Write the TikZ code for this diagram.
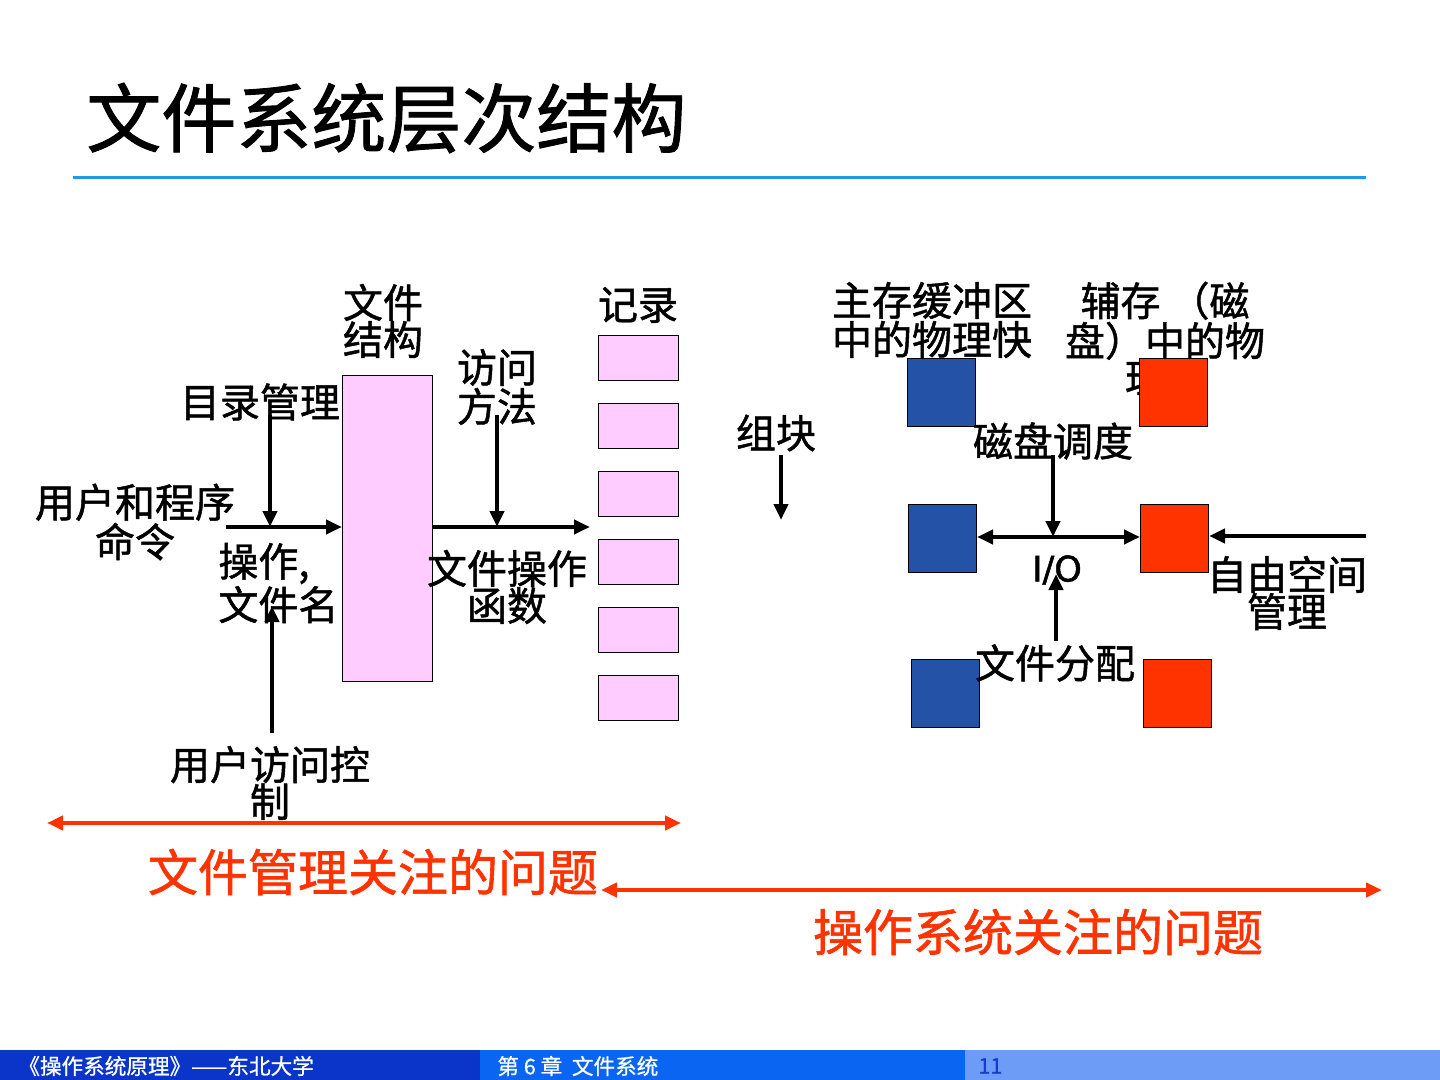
\documentclass[tikz,border=0pt]{standalone}
\usepackage{fontspec}
\setmainfont{Noto Sans CJK SC}
\newfontfamily\cjk[FakeBold=1.2]{Noto Sans CJK SC}
\newfontfamily\cjkfoot[FakeBold=0.8]{Noto Sans CJK SC}
\newfontfamily\iofont[FakeBold=1.5]{DejaVu Sans}
\usetikzlibrary{arrows.meta}
\definecolor{pinkfill}{HTML}{FFCCFF}
\definecolor{sqblue}{HTML}{2352A6}
\definecolor{sqred}{HTML}{FF3300}
\definecolor{rulecol}{HTML}{1E9BE6}
\definecolor{barA}{HTML}{0A35C8}
\definecolor{barB}{HTML}{0A66F2}
\definecolor{barC}{HTML}{6C9CF5}
\definecolor{pagenum}{HTML}{1A3ACC}
\begin{document}
\begin{tikzpicture}[x=0.5pt,y=-0.5pt,
  lbl/.style={inner sep=0pt,align=center,font=\cjk\fontsize{20}{18.5}\selectfont},
  redlbl/.style={inner sep=0pt,font=\cjk\fontsize{25}{26}\selectfont,text=sqred},
  arr/.style={line width=2pt,-{Triangle[length=8pt,width=7pt]}},
  darr/.style={line width=2pt,{Triangle[length=8pt,width=7pt]}-{Triangle[length=8pt,width=7pt]}},
  rarr/.style={line width=2pt,color=sqred,{Triangle[length=8pt,width=7pt]}-{Triangle[length=8pt,width=7pt]}},
  rec/.style={draw=black,line width=0.6pt,fill=pinkfill},
  bsq/.style={draw=black,line width=0.5pt,fill=sqblue},
  rsq/.style={draw=black,line width=0.5pt,fill=sqred},
  foot/.style={inner sep=0pt,anchor=west,font=\cjkfoot\fontsize{10.8}{11}\selectfont}]
\useasboundingbox (0,0) rectangle (1440,1080);
\fill[white] (0,0) rectangle (1440,1080);
% title
\node[inner sep=0pt,anchor=west,font=\cjk\fontsize{37.5}{38}\selectfont] (title) at (86,118) {文件系统层次结构};
\draw[rulecol,line width=1.5pt] (73,178) -- (1366,178);
% left part
\node[rec,minimum width=45pt,minimum height=153pt,inner sep=0pt,anchor=north west] (fs) at (342,375) {};
\foreach \i/\y in {1/335,2/403,3/471,4/539,5/607,6/675}
  \node[rec,minimum width=40pt,minimum height=22.5pt,inner sep=0pt,anchor=north west] (r\i) at (598,\y) {};
\node[lbl] (jl) at (638,305) {记录};
\node[lbl] (wjjg) at (383,321) {文件\\结构};
\node[lbl] (fwff) at (497,387) {访问\\方法};
\node[lbl] (mlgl) at (260,402) {目录管理};
\node[lbl] (yhcx) at (135,522) {用户和程序\\命令};
\node[lbl,align=left,anchor=west] (czwj) at (218,583) {操作,\\文件名};
\node[lbl] (wjcz) at (507,587) {文件操作\\函数};
\node[lbl] (yhfw) at (270,783) {用户访问控\\制};
\node[lbl] (zk) at (776,433) {组块};
\coordinate (inL) at (226,527);
\coordinate (mgTop) at (270,415);
\coordinate (mgBot) at (270,527);
\coordinate (acBot) at (272,606);
\coordinate (acTop) at (272,733);
\coordinate (outR) at (590,527);
\coordinate (fwTop) at (497,415);
\coordinate (fwBot) at (497,527);
\coordinate (zkTop) at (781,455);
\coordinate (zkBot) at (781,520);
\draw[arr] (inL) -- (fs.west |- inL);
\draw[arr] (mgTop) -- (mgBot);
\draw[arr] (acTop) -- (acBot);
\draw[arr] (fs.east |- outR) -- (outR);
\draw[arr] (fwTop) -- (fwBot);
\draw[arr] (zkTop) -- (zkBot);
% right part
\node[lbl] (zc) at (932,320) {主存缓冲区\\中的物理快};
\node[lbl] (fc) at (1165,339) {辅存 （磁\\盘）中的物\\理块};
\foreach \n/\x/\y in {b1/907/358,b2/908/504,b3/911/659}
  \node[bsq,minimum width=34pt,minimum height=34pt,inner sep=0pt,anchor=north west] (\n) at (\x,\y) {};
\foreach \n/\x/\y in {s1/1139/358,s2/1140/504,s3/1143/659}
  \node[rsq,minimum width=34pt,minimum height=34pt,inner sep=0pt,anchor=north west] (\n) at (\x,\y) {};
\node[lbl] (cpdd) at (1053,441) {磁盘调度};
\node[inner sep=0pt,font=\iofont\fontsize{17.5}{18}\selectfont] (io) at (1057,570) {I/O};
\node[lbl] (wjfp) at (1055,663) {文件分配};
\node[lbl] (zykj) at (1287,593) {自由空间\\管理};
\coordinate (ioMid) at (1053,537);
\coordinate (cdTop) at (1053,455);
\coordinate (fpBot) at (1056,641);
\coordinate (fpTop) at (1056,574);
\coordinate (frR) at (1366,536);
\draw[darr] (b2.east |- ioMid) -- (s2.west |- ioMid);
\draw[arr] (cdTop) -- (ioMid);
\draw[arr] (fpBot) -- (fpTop);
\draw[arr] (frR) -- (s2.east |- frR);
% red arrows
\coordinate (ra1) at (47,823);
\coordinate (ra2) at (681,823);
\coordinate (rb1) at (601,890);
\coordinate (rb2) at (1382,890);
\draw[rarr] (ra1) -- (ra2);
\draw[rarr] (rb1) -- (rb2);
\node[redlbl] (wjgl) at (373,872) {文件管理关注的问题};
\node[redlbl] (czxt) at (1038,932) {操作系统关注的问题};
% footer
\fill[barA] (0,1050) rectangle (480,1080);
\fill[barB] (480,1050) rectangle (965,1080);
\fill[barC] (965,1050) rectangle (1440,1080);
\node[foot,text=white] (f1) at (18,1066) {《操作系统原理》——东北大学};
\node[foot,text=white] (f2) at (497,1066) {第 6 章\ \ 文件系统};
\node[foot,text=pagenum] (f3) at (978,1066) {11};
\end{tikzpicture}
\end{document}
